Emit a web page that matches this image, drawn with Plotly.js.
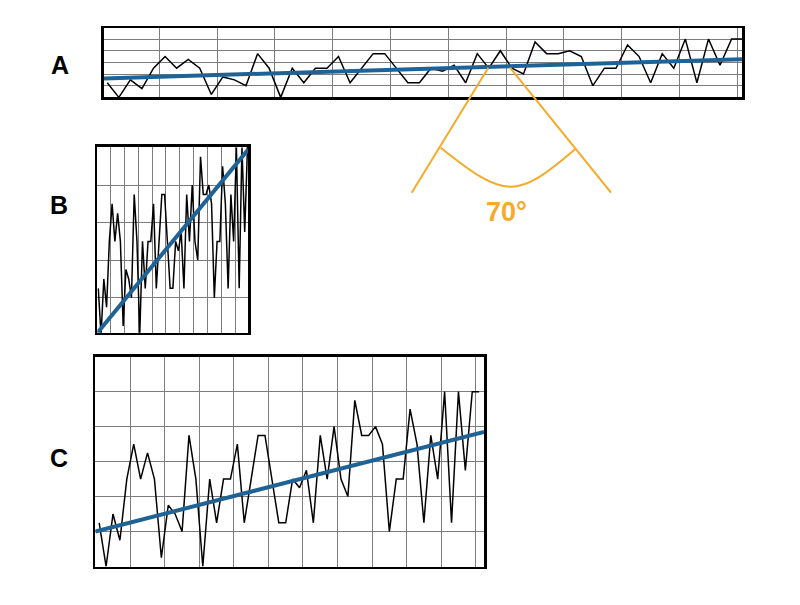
<!DOCTYPE html>
<html>
<head>
<meta charset="utf-8">
<script src="https://cdn.plot.ly/plotly-3.0.1.min.js"></script>
<style>
  html, body { margin: 0; padding: 0; background: #ffffff; }
  #chart { width: 800px; height: 605px; }
</style>
</head>
<body>
<div id="chart"></div>
<script>
// ---- data ----
const seriesValues = [5,0,6,3,10,14,10,13,10,1,7,6,4,15,10,0,10,5,10,10,
                      14,5,10,15,15,10,5,5,10,9,11,5,15,10,16,10,8,19,15,15,
                      16,14,4,10,10,18,14,5,15,10,20,5,20,11,20,20];
const seriesIndex = seriesValues.map((v, i) => i);
const panelLabels = ["A", "B", "C"];
// fitted trend line values at the left / right edge of each panel
const trendA = [6.5, 13.1];
const trendB = [0.25, 19.8];
const trendC = [4.0, 15.4];
const angleLabel = "70°";

// ---- layout helpers (pixel -> paper) ----
const W = 800, H = 605;
const fx = p => p / W;
const fy = p => 1 - p / H;

const xRangeA = [-0.3, 54.9],  yRangeA = [0, 23.8];
const xRangeB = [-0.36, 54.3], yRangeB = [0.28, 20.08];
const xRangeC = [-0.56, 55.7], yRangeC = [0, 24];

const gridCol = "#7d7d7d";
const blue = "#1f6396";
const orange = "#F5AA2A";

function ax(domain, range, dtick, tick0) {
  return {
    domain: domain, range: range, fixedrange: true,
    showgrid: true, gridcolor: gridCol, gridwidth: 1,
    dtick: dtick, tick0: tick0, ticks: "", showticklabels: false,
    zeroline: false, showline: true, mirror: true,
    linecolor: "#000", linewidth: 2.5
  };
}

const dataLine = { color: "#000", width: 1.5 };
const trendLine = { color: blue, width: 4 };

const traces = [
  { x: seriesIndex, y: seriesValues, xaxis: "x",  yaxis: "y",  mode: "lines", line: dataLine, hoverinfo: "skip" },
  { x: seriesIndex, y: seriesValues, xaxis: "x2", yaxis: "y2", mode: "lines", line: dataLine, hoverinfo: "skip" },
  { x: seriesIndex, y: seriesValues, xaxis: "x3", yaxis: "y3", mode: "lines", line: dataLine, hoverinfo: "skip" },
  { x: xRangeA, y: trendA, xaxis: "x",  yaxis: "y",  mode: "lines", line: trendLine, hoverinfo: "skip" },
  { x: xRangeB, y: trendB, xaxis: "x2", yaxis: "y2", mode: "lines", line: trendLine, hoverinfo: "skip" },
  { x: xRangeC, y: trendC, xaxis: "x3", yaxis: "y3", mode: "lines", line: trendLine, hoverinfo: "skip" }
];

function pt(x, y) { return fx(x).toFixed(5) + "," + fy(y).toFixed(5); }

const layout = {
  width: W, height: H,
  margin: { l: 0, r: 0, t: 0, b: 0, pad: 0 },
  paper_bgcolor: "#fff", plot_bgcolor: "#fff",
  showlegend: false,
  font: { family: "Liberation Sans, Arial, sans-serif", color: "#000" },
  xaxis:  ax([fx(103.8), fx(742)],   xRangeA, 5, -0.5),
  yaxis:  ax([fy(97.35), fy(28)],    yRangeA, 4, 0),
  xaxis2: Object.assign(ax([fx(97.3), fx(248.3)], xRangeB, 5, -0.5), { anchor: "y2" }),
  yaxis2: Object.assign(ax([fy(332.7), fy(146.7)], yRangeB, 4, 0), { anchor: "x2" }),
  xaxis3: Object.assign(ax([fx(95.3), fx(484)], xRangeC, 5, -0.5), { anchor: "y3" }),
  yaxis3: Object.assign(ax([fy(566.5), fy(356.7)], yRangeC, 4, 0), { anchor: "x3" }),
  shapes: [
    { type: "line", xref: "paper", yref: "paper",
      x0: fx(488.3), y0: fy(67.7), x1: fx(411.7), y1: fy(192.7),
      line: { color: orange, width: 2 } },
    { type: "line", xref: "paper", yref: "paper",
      x0: fx(510), y0: fy(67.7), x1: fx(611), y1: fy(192.7),
      line: { color: orange, width: 2 } },
    { type: "path", xref: "paper", yref: "paper",
      path: "M" + pt(440.7, 147.7) + " C" + pt(505, 199) + " " + pt(516, 200) + " " + pt(575, 149.3),
      line: { color: orange, width: 2 } }
  ],
  annotations: [
    { text: "<b>" + panelLabels[0] + "</b>", xref: "paper", yref: "paper", x: fx(59.7), y: fy(65), showarrow: false, xanchor: "center", yanchor: "middle", font: { size: 25, color: "#000" } },
    { text: "<b>" + panelLabels[1] + "</b>", xref: "paper", yref: "paper", x: fx(58.5), y: fy(205), showarrow: false, xanchor: "center", yanchor: "middle", font: { size: 25, color: "#000" } },
    { text: "<b>" + panelLabels[2] + "</b>", xref: "paper", yref: "paper", x: fx(59), y: fy(458), showarrow: false, xanchor: "center", yanchor: "middle", font: { size: 25, color: "#000" } },
    { text: "<b>" + angleLabel + "</b>", xref: "paper", yref: "paper", x: fx(506.7), y: fy(212), showarrow: false, xanchor: "center", yanchor: "middle", font: { size: 27, color: orange } }
  ]
};

Plotly.newPlot("chart", traces, layout, { staticPlot: true, displayModeBar: false });
</script>
</body>
</html>
